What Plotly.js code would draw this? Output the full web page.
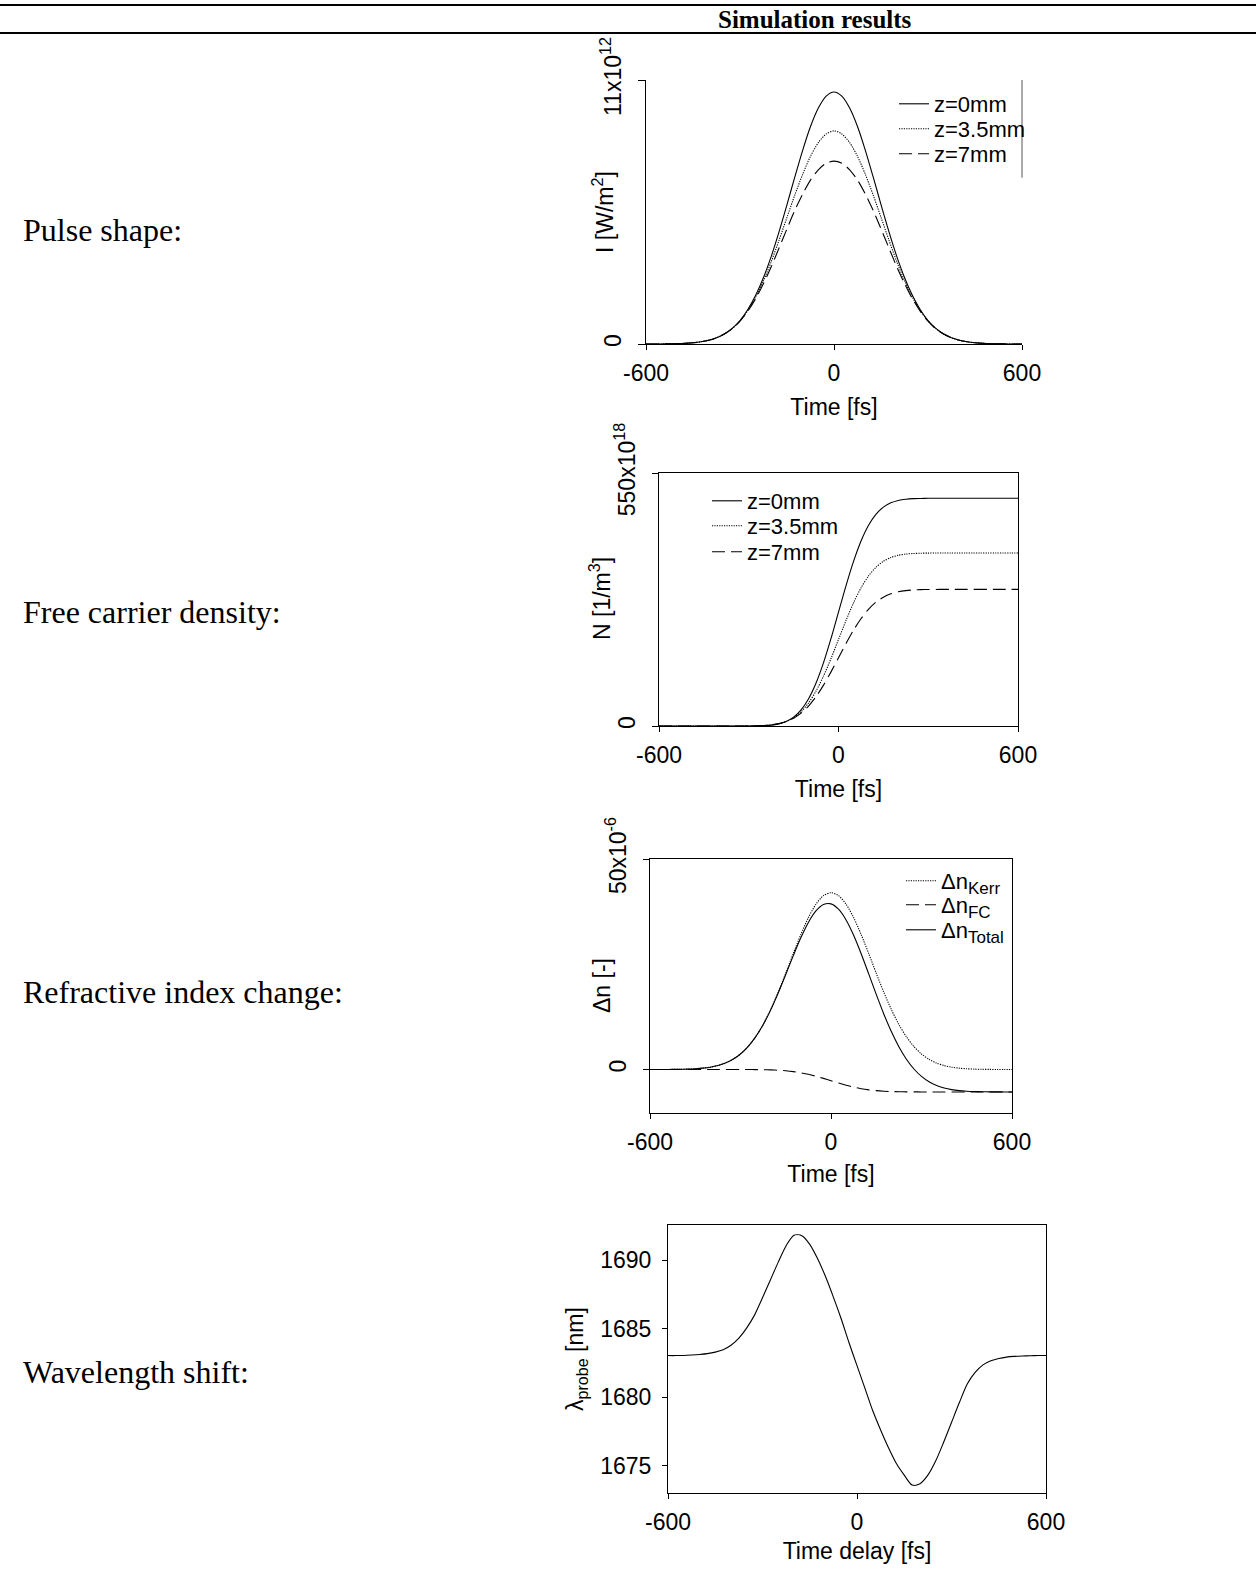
<!DOCTYPE html>
<html>
<head>
<meta charset="utf-8">
<script src="https://cdn.plot.ly/plotly-3.0.1.min.js"></script>
<style>
  html, body { margin: 0; padding: 0; background: #fff; }
  #chart { width: 1256px; height: 1570px; }
</style>
</head>
<body>
<div id="chart"></div>
<script>
// ---------- data ----------
const time = [-600,-575,-550,-525,-500,-475,-450,-425,-400,-375,-350,-325,-300,-275,-250,-225,-200,-175,-150,-125,-100,-75,-50,-25,0,25,50,75,100,125,150,175,200,225,250,275,300,325,350,375,400,425,450,475,500,525,550,575,600];

// Pulse shape I [10^12 W/m^2]
const pulseZ0 = [0.0007,0.0015,0.003,0.007,0.015,0.028,0.051,0.091,0.156,0.26,0.42,0.65,0.98,1.44,2.03,2.77,3.66,4.69,5.81,6.96,8.07,9.06,9.83,10.33,10.5,10.33,9.83,9.06,8.07,6.96,5.81,4.69,3.66,2.77,2.03,1.44,0.98,0.65,0.42,0.26,0.156,0.091,0.051,0.028,0.015,0.007,0.003,0.0015,0.0007];
const pulseZ35 = [0.0007,0.0015,0.003,0.007,0.015,0.028,0.051,0.091,0.156,0.259,0.417,0.64,0.96,1.40,1.96,2.64,3.44,4.34,5.28,6.21,7.07,7.82,8.39,8.75,8.88,8.75,8.39,7.82,7.07,6.21,5.28,4.34,3.44,2.64,1.96,1.40,0.96,0.64,0.417,0.259,0.156,0.091,0.051,0.028,0.015,0.007,0.003,0.0015,0.0007];
const pulseZ7 = [0.0007,0.0015,0.003,0.007,0.015,0.028,0.051,0.091,0.155,0.258,0.414,0.635,0.95,1.37,1.89,2.52,3.23,4.01,4.80,5.57,6.25,6.83,7.26,7.53,7.62,7.53,7.26,6.83,6.25,5.57,4.80,4.01,3.23,2.52,1.89,1.37,0.95,0.635,0.414,0.258,0.155,0.091,0.051,0.028,0.015,0.007,0.003,0.0015,0.0007];

// Free carrier density N [10^18 1/m^3]
const carrZ0 = [0,0,0,0,0,0,0,0,0,0,0,0,0.1,0.3,0.8,2.0,4.6,9.8,19.2,35.0,59.3,93.5,137.8,190.3,247.5,304.7,357.2,401.5,435.7,460.0,475.8,485.2,490.4,493.0,494.2,494.7,495.0,495,495,495,495,495,495,495,495,495,495,495,495];
const carrZ35 = [0,0,0,0,0,0,0,0,0,0,0,0,0.1,0.4,1.0,2.3,4.9,9.7,18.0,31.0,50.1,76.1,108.7,146.8,188.0,229.2,267.3,299.9,325.9,345.0,358.0,366.3,371.1,373.7,375.0,375.6,375.9,376,376,376,376,376,376,376,376,376,376,376,376];
const carrZ7 = [0,0,0,0,0,0,0,0,0,0,0,0.1,0.2,0.6,1.2,2.6,5.2,9.7,17.0,27.9,43.4,63.9,88.9,117.7,148.5,179.3,208.1,233.1,253.6,269.1,280.0,287.3,291.8,294.4,295.8,296.4,296.8,296.9,297,297,297,297,297,297,297,297,297,297,297];

// Refractive index change [10^-6]
const dnKerr = [0.002,0.005,0.012,0.024,0.049,0.094,0.176,0.318,0.556,0.94,1.53,2.42,3.69,5.44,7.76,10.69,14.25,18.36,22.86,27.54,32.05,36.08,39.26,41.30,42,41.30,39.26,36.08,32.05,27.54,22.86,18.36,14.25,10.69,7.76,5.44,3.69,2.42,1.53,0.94,0.556,0.318,0.176,0.094,0.049,0.024,0.012,0.005,0.002];
const dnFC = [0,0,0,0,0,0,0,0,0,0,0,-0.002,-0.004,-0.010,-0.022,-0.047,-0.094,-0.174,-0.305,-0.502,-0.779,-1.146,-1.596,-2.112,-2.665,-3.218,-3.734,-4.184,-4.551,-4.828,-5.025,-5.156,-5.236,-5.283,-5.308,-5.320,-5.326,-5.328,-5.33,-5.33,-5.33,-5.33,-5.33,-5.33,-5.33,-5.33,-5.33,-5.33,-5.33];
const dnTotal = [0.002,0.005,0.012,0.024,0.049,0.094,0.176,0.318,0.556,0.94,1.53,2.418,3.686,5.43,7.738,10.643,14.156,18.186,22.555,27.038,31.271,34.934,37.664,39.188,39.335,38.082,35.526,31.896,27.499,22.712,17.835,13.204,9.014,5.407,2.452,0.12,-1.636,-2.908,-3.80,-4.39,-4.774,-5.012,-5.154,-5.236,-5.281,-5.306,-5.318,-5.325,-5.328];

// Probe wavelength [nm]
const lambdaProbe = [1683.03,1683.03,1683.04,1683.07,1683.11,1683.17,1683.28,1683.45,1683.78,1684.30,1685.05,1686.00,1687.25,1688.55,1689.85,1691.05,1691.82,1691.78,1691.15,1690.10,1688.80,1687.30,1685.70,1683.95,1682.30,1680.65,1679.00,1677.60,1676.30,1675.15,1674.30,1673.58,1673.68,1674.30,1675.35,1676.70,1678.15,1679.60,1680.95,1681.80,1682.35,1682.65,1682.82,1682.92,1682.97,1683.00,1683.02,1683.03,1683.03];

// ticks & labels
const xTickVals = [-600, 0, 600];
const xTickText = ['-600', '0', '600'];
const y1TickVals = [0, 11];
const y1TickText = ['0', '11x10<sup>12</sup>'];
const y2TickVals = [0, 550];
const y2TickText = ['0', '550x10<sup>18</sup>'];
const y3TickVals = [0, 50];
const y3TickText = ['0', '50x10<sup>-6</sup>'];
const y4TickVals = [1675, 1680, 1685, 1690];
const y4TickText = ['1675', '1680', '1685', '1690'];
const yTitles = ['I [W/m<sup>2</sup>]', 'N [1/m<sup>3</sup>]', '\u0394n [-]', '\u03bb<sub>probe</sub> [nm]'];
const xTitles = ['Time [fs]', 'Time [fs]', 'Time [fs]', 'Time delay [fs]'];
const zNames = ['z=0mm', 'z=3.5mm', 'z=7mm'];
const dnNames = ['\u0394n<sub><span style="font-size:17px">Kerr</span></sub>',
                 '\u0394n<sub><span style="font-size:17px">FC</span></sub>',
                 '\u0394n<sub><span style="font-size:17px">Total</span></sub>'];
const sectionLabels = ['Pulse shape:', 'Free carrier density:', 'Refractive index change:', 'Wavelength shift:'];
const headerText = 'Simulation results';

// ---------- layout helpers ----------
const W = 1256, H = 1570;
const px = v => v / W;
const py = v => 1 - v / H;
const sans = 'Liberation Sans, Arial, sans-serif';
const serif = 'Liberation Serif, Times New Roman, serif';
const axFont = {family: sans, size: 23, color: '#000'};
const DOT = '1.2px,1.2px';
const DASH = '13px,6px';

function xAxis(x0, x1, anchor, title, mirror, standoff) {
  return {
    domain: [px(x0), px(x1)], anchor: anchor, range: [-600, 600],
    tickmode: 'array', tickvals: xTickVals, ticktext: xTickText,
    ticks: 'outside', ticklen: 5, tickwidth: 1, tickcolor: '#000', ticklabelstandoff: 3,
    showline: true, linecolor: '#000', linewidth: 1, mirror: mirror,
    showgrid: false, zeroline: false, tickfont: axFont,
    title: {text: title, font: axFont, standoff: standoff}, fixedrange: true
  };
}
function yAxis(top, bottom, anchor, range, vals, text, angle, mirror, ticklen, standoff) {
  return {
    domain: [py(bottom), py(top)], anchor: anchor, range: range,
    tickmode: 'array', tickvals: vals, ticktext: text, tickangle: angle,
    ticks: 'outside', ticklen: ticklen, tickwidth: 1, tickcolor: '#000', ticklabelstandoff: standoff,
    showline: true, linecolor: '#000', linewidth: 1, mirror: mirror,
    showgrid: false, zeroline: false, tickfont: axFont, fixedrange: true
  };
}
function line(x, y, name, dash, xa, ya, legend, show) {
  return {
    x: x, y: y, name: name, type: 'scatter', mode: 'lines',
    line: {color: '#000', width: 1.1, dash: dash, shape: 'spline', smoothing: 0.8},
    xaxis: xa, yaxis: ya, legend: legend, showlegend: show, hoverinfo: 'skip'
  };
}

const traces = [
  line(time, pulseZ0, zNames[0], 'solid', 'x', 'y', 'legend', true),
  line(time, pulseZ35, zNames[1], DOT, 'x', 'y', 'legend2', true),
  line(time, pulseZ7, zNames[2], DASH, 'x', 'y', 'legend3', true),
  line(time, carrZ0, zNames[0], 'solid', 'x2', 'y2', 'legend4', true),
  line(time, carrZ35, zNames[1], DOT, 'x2', 'y2', 'legend5', true),
  line(time, carrZ7, zNames[2], DASH, 'x2', 'y2', 'legend6', true),
  line(time, dnKerr, dnNames[0], DOT, 'x3', 'y3', 'legend7', true),
  line(time, dnFC, dnNames[1], DASH, 'x3', 'y3', 'legend8', true),
  line(time, dnTotal, dnNames[2], 'solid', 'x3', 'y3', 'legend9', true),
  line(time, lambdaProbe, '\u03bbprobe', 'solid', 'x4', 'y4', 'legend', false)
];

function legendAt(x, y) {
  return {x: px(x), y: py(y), xanchor: 'left', yanchor: 'middle',
          font: {family: sans, size: 22, color: '#000'}, bgcolor: 'rgba(255,255,255,0)',
          borderwidth: 0, itemwidth: 30, tracegroupgap: 0, traceorder: 'normal'};
}

const labelY = [230, 612, 992, 1372];
const annotations = sectionLabels.map((t, i) => ({
  text: t, xref: 'paper', yref: 'paper', x: px(21), y: py(labelY[i]),
  xanchor: 'left', yanchor: 'middle', showarrow: false,
  font: {family: serif, size: 32, color: '#000'}
}));
annotations.push({
  text: '<b>' + headerText + '</b>', xref: 'paper', yref: 'paper', x: px(815), y: py(20),
  xanchor: 'center', yanchor: 'middle', showarrow: false,
  font: {family: serif, size: 25, color: '#000'}
});
// y-axis titles (rotated text) placed beside each panel
const yTitleX = [603, 600, 602, 576];
const yTitleY = [212, 599, 986, 1359];
yTitles.forEach((t, i) => annotations.push({
  text: t, xref: 'paper', yref: 'paper', x: px(yTitleX[i]), y: py(yTitleY[i]),
  xanchor: 'center', yanchor: 'middle', textangle: -90, showarrow: false,
  font: {family: sans, size: 23, color: '#000'}
}));

const layout = {
  width: W, height: H, margin: {l: 0, r: 0, t: 0, b: 0},
  paper_bgcolor: '#fff', plot_bgcolor: 'rgba(0,0,0,0)',
  showlegend: true,
  xaxis: xAxis(646, 1022, 'y', xTitles[0], false, 14),
  yaxis: yAxis(80, 344, 'x', [0, 11], y1TickVals, y1TickText, -90, false, 7, 8),
  xaxis2: xAxis(659, 1018, 'y2', xTitles[1], true, 14),
  yaxis2: yAxis(473, 726, 'x2', [0, 550], y2TickVals, y2TickText, -90, true, 6, 8),
  xaxis3: xAxis(650, 1012, 'y3', xTitles[2], true, 12),
  yaxis3: yAxis(859, 1113, 'x3', [-10.33, 50], y3TickVals, y3TickText, -90, true, 6, 8),
  xaxis4: xAxis(668, 1046, 'y4', xTitles[3], true, 9),
  yaxis4: yAxis(1225, 1493, 'x4', [1673.0, 1692.56], y4TickVals, y4TickText, 0, true, 5, 6),
  legend: legendAt(894, 104),
  legend2: legendAt(894, 129),
  legend3: legendAt(894, 154),
  legend4: legendAt(707, 501),
  legend5: legendAt(707, 526),
  legend6: legendAt(707, 552),
  legend7: legendAt(901, 881),
  legend8: legendAt(901, 905),
  legend9: legendAt(901, 930),
  annotations: annotations,
  shapes: [
    {type: 'line', xref: 'paper', yref: 'paper', x0: 0, x1: 1, y0: py(5), y1: py(5), line: {color: '#000', width: 2}},
    {type: 'line', xref: 'paper', yref: 'paper', x0: 0, x1: 1, y0: py(33), y1: py(33), line: {color: '#000', width: 2}},
    {type: 'line', xref: 'x domain', yref: 'y domain', x0: 1, x1: 1, y0: 1, y1: 0.63, line: {color: '#555', width: 1}}
  ]
};

Plotly.newPlot('chart', traces, layout, {displayModeBar: false, staticPlot: true});
</script>
</body>
</html>
